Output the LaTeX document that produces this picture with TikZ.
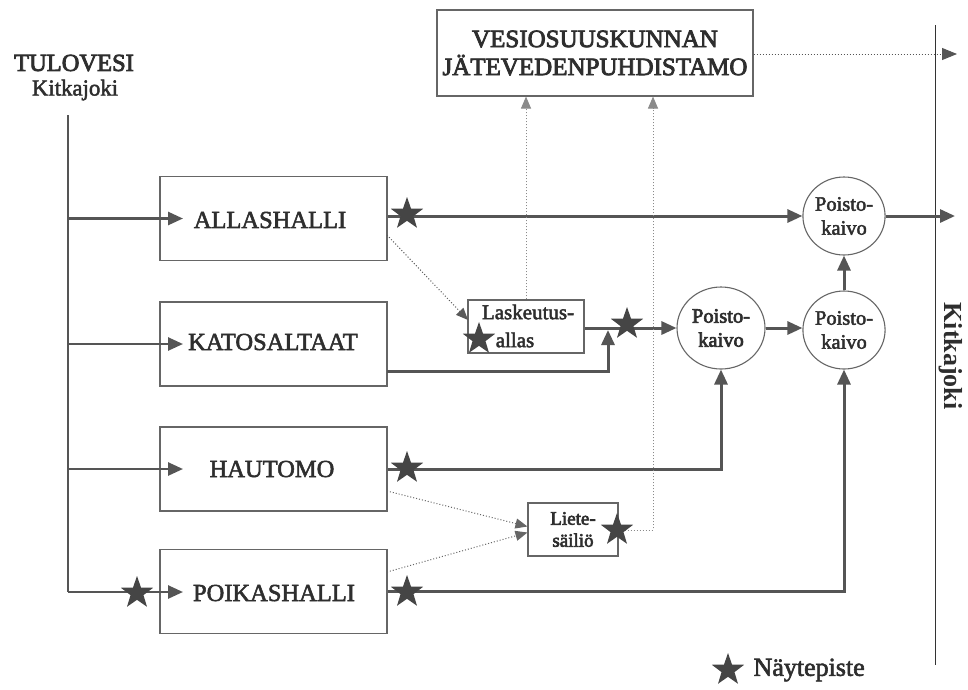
\documentclass[tikz,border=0pt]{standalone}
\usepackage{fontspec}
\setmainfont{Liberation Serif}
\newfontfamily\scanfont[FakeBold=2.2]{Liberation Serif}
\newfontfamily\scanheavy[FakeBold=3.2]{Liberation Serif}
\usetikzlibrary{shapes.geometric,arrows.meta,calc}
\definecolor{lnc}{HTML}{555555}
\definecolor{boxc}{HTML}{666666}
\definecolor{dotc}{HTML}{8A8A8A}
\definecolor{txtc}{HTML}{2E2E2E}
\definecolor{starc}{HTML}{454545}
\begin{document}
\begin{tikzpicture}[x=1pt,y=-1pt,
  every node/.style={text=txtc},
  unitbox/.style={draw=boxc, line width=1.1pt, rectangle, minimum width=227pt, minimum height=84pt, inner sep=0pt},
  unittext/.style={font=\scanfont\fontsize{24.5}{27}\selectfont},
  smallbox/.style={draw=boxc, line width=1.1pt, rectangle, inner sep=0pt},
  kaivo/.style={draw=boxc, line width=1.1pt, ellipse, minimum width=82pt, minimum height=78pt, inner sep=0pt,
    align=center, font=\scanfont\fontsize{20.5}{24}\selectfont},
  mstar/.style={star, star points=5, star point ratio=2.5, fill=starc, draw=none, minimum size=34pt, inner sep=0pt},
  flow/.style={draw=lnc, line width=3pt, -{Triangle[length=15pt,width=13pt]}},
  flowplain/.style={draw=lnc, line width=3pt},
  dotflow/.style={draw=dotc, line width=1pt, dotted, -{Triangle[length=12pt,width=10pt]}},
]
\useasboundingbox (0,0) rectangle (968,689);
\fill[white] (0,0) rectangle (968,689);

% boxes
\node[unitbox] (allas) at (273.5,218.5) {};
\node[unitbox] (katos) at (273.5,344) {};
\node[unitbox] (haut)  at (273.5,469) {};
\node[unitbox] (poik)  at (273.5,591.5) {};
\node[unittext] (tallas) at (270,220) {ALLASHALLI};
\node[unittext] (tkatos) at (273,342) {KATOSALTAAT};
\node[unittext] (thaut) at (272,469) {HAUTOMO};
\node[unittext] (tpoik) at (274,593) {POIKASHALLI};

\node[draw=boxc, line width=1.1pt, rectangle, minimum width=316pt, minimum height=86pt, inner sep=0pt,
  align=center, font=\scanheavy\fontsize{25}{28}\selectfont] (top) at (595,53)
  {VESIOSUUSKUNNAN\\JÄTEVEDENPUHDISTAMO};

\node[smallbox, minimum width=116pt, minimum height=53pt] (lask) at (526,326.5) {};
\node[font=\scanfont\fontsize{21}{24}\selectfont] (tlask1) at (528,312) {Laskeutus-};
\node[font=\scanfont\fontsize{21}{24}\selectfont] (tlask2) at (515,340) {allas};
\node[smallbox, minimum width=90pt, minimum height=53pt, align=center,
  font=\scanheavy\fontsize{19}{22}\selectfont] (liete) at (573,529.5) {Liete-\\säiliö};

\node[kaivo] (p1) at (844,216) {Poisto-\\kaivo};
\node[kaivo] (p2) at (844,330) {Poisto-\\kaivo};
\node[kaivo, minimum width=88pt, minimum height=82pt, font=\scanheavy\fontsize{20.5}{24}\selectfont] (pm) at (721,328) {Poisto-\\kaivo};

% labels
\node[font=\scanheavy\fontsize{24.5}{27}\selectfont] (tulo) at (74,63) {TULOVESI};
\node[font=\scanfont\fontsize{22.8}{26}\selectfont] (kit) at (75,90) {Kitkajoki};
\node[rotate=-90, font=\bfseries\fontsize{26}{28}\selectfont] (kitr) at (951,356) {Kitkajoki};

% coordinates
\coordinate (inTop) at (68,115);
\coordinate (inBot) at (68,592);
\coordinate (allasIn) at (183,218.5);
\coordinate (katosIn) at (183,344);
\coordinate (hautIn) at (183,469);
\coordinate (poikIn) at (183,592);
\coordinate (allasD) at (387,235);
\coordinate (laskIn) at (468,320);
\coordinate (katosOut) at (387,371);
\coordinate (katosUp) at (608,330);
\coordinate (hautD) at (387,491);
\coordinate (poikD) at (387,572);
\coordinate (lcorner) at (653,530);
\coordinate (out1) at (955,216);
\coordinate (out2) at (957,54);
\coordinate (riverTop) at (935,25);
\coordinate (riverBot) at (935,665);

% river line
\draw[draw=black!80, line width=0.9pt] (riverTop) -- (riverBot);

% inlet
\draw[flowplain, line width=2.6pt] (inTop) -- (inBot);
\draw[flow, line width=2.6pt] (inTop |- allas) -- (allasIn);
\draw[flow, line width=2.6pt] (inTop |- katos) -- (katosIn);
\draw[flow, line width=2.6pt] (inTop |- haut) -- (hautIn);
\draw[flow, line width=2.6pt] (inBot) -- (poikIn);

% outflows
\draw[flow] (allas.east |- p1) -- (p1.west);
\draw[flow] (katosOut) -| (katosUp);
\draw[flow] (lask.east |- pm) -- (pm.west);
\draw[flow] (haut.east) -| (pm.south);
\draw[flow] (poik.east) -| (p2.south);
\draw[flow] (pm.east) -- (p2.west |- pm);
\draw[flow] (p2.north) -- (p1.south);
\draw[flow] (p1.east) -- (out1);

% dotted flows
\draw[dotflow, draw=black!65] (allasD) -- (laskIn);
\draw[dotflow, draw=black!60] (hautD) -- ($(liete.west)+(0,-3)$);
\draw[dotflow, draw=black!60] (poikD) -- ($(liete.west)+(0,3)$);
\draw[dotflow] (lask.north) -- (lask.north |- top.south);
\draw[dotflow] (liete.east |- lcorner) -- (lcorner) -- (lcorner |- top.south);
\draw[draw=lnc, line width=1pt, dotted, -{Triangle[length=15pt,width=12pt]}] (top.east |- out2) -- (out2);

% stars
\node[mstar] (s1) at (407,214) {};
\node[mstar] (s2) at (479,339) {};
\node[mstar] (s3) at (627,324) {};
\node[mstar] (s4) at (407,468) {};
\node[mstar] (s5) at (617,530) {};
\node[mstar] (s6) at (137,593) {};
\node[mstar] (s7) at (407,592) {};

% legend
\node[mstar] (ls) at (728,670) {};
\node[anchor=west, font=\scanfont\fontsize{26}{28}\selectfont] (lt) at (750,670) {Näytepiste};
\end{tikzpicture}
\end{document}
